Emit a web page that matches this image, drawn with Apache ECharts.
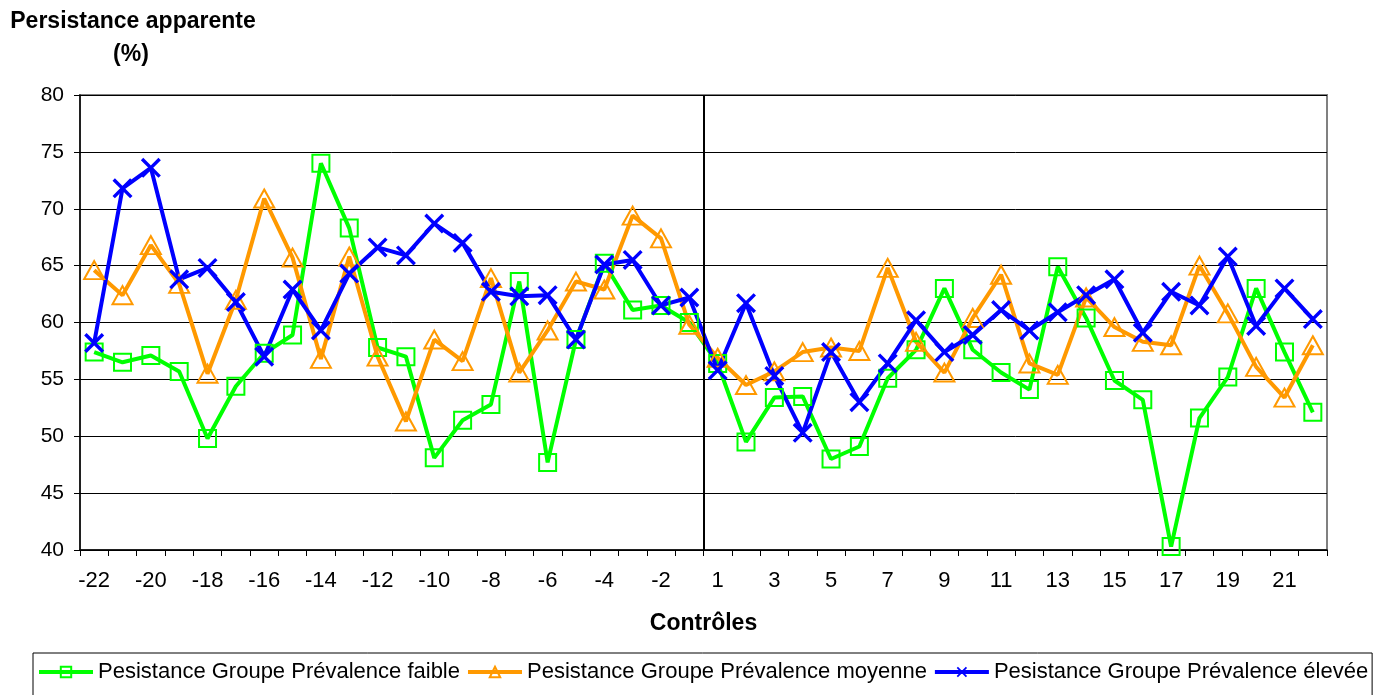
<!DOCTYPE html>
<html>
<head>
<meta charset="utf-8">
<script src="https://cdn.jsdelivr.net/npm/echarts@6/dist/echarts.min.js"></script>
<style>html,body{margin:0;padding:0;background:#fff}#c{width:1378px;height:695px}</style>
</head>
<body>
<div id="c"></div>
<script>
const categories = ['-22','-21','-20','-19','-18','-17','-16','-15','-14','-13','-12','-11','-10','-9','-8','-7','-6','-5','-4','-3','-2','-1',
  '1','2','3','4','5','6','7','8','9','10','11','12','13','14','15','16','17','18','19','20','21','22'];
const faible = [57.4,56.5,57.1,55.7,49.8,54.4,57.3,58.9,74.0,68.3,57.8,57.0,48.1,51.4,52.8,63.6,47.7,58.5,65.2,61.1,61.5,60.0,
  56.4,49.5,53.4,53.5,48.0,49.1,55.1,57.6,63.0,57.6,55.6,54.1,64.9,60.4,54.9,53.2,40.3,51.6,55.2,63.0,57.4,52.1];
const moyenne = [64.6,62.4,66.8,63.4,55.5,62.0,70.9,65.7,56.8,65.8,57.0,51.3,58.5,56.6,63.9,55.6,59.3,63.6,62.9,69.4,67.4,59.8,
  56.9,54.5,55.7,57.4,57.8,57.5,64.8,58.3,55.6,60.4,64.2,56.4,55.4,62.2,59.6,58.3,58.0,65.0,60.8,56.1,53.4,58.0];
const elevee = [58.2,71.8,73.6,63.8,64.8,61.8,57.0,62.9,59.3,64.3,66.6,65.9,68.7,67.0,62.7,62.3,62.4,58.5,65.1,65.5,61.5,62.2,
  55.8,61.7,55.3,50.3,57.4,53.0,56.4,60.2,57.4,58.9,61.1,59.3,60.9,62.4,63.8,59.1,62.7,61.5,65.8,59.7,63.0,60.3];
const negativeCount = 22;
const seriesNames = ['Pesistance Groupe Prévalence faible','Pesistance Groupe Prévalence moyenne','Pesistance Groupe Prévalence élevée'];
const yTicks = {min: 40, max: 80, interval: 5};

const FONT = 'Liberation Sans';
const chart = echarts.init(document.getElementById('c'), null, {renderer: 'canvas'});
const crossPath = 'path://M0,1.2L1.2,0L10,8.8L8.8,10Z M8.8,0L10,1.2L1.2,10L0,8.8Z';

chart.setOption({
  animation: false,
  backgroundColor: '#fff',
  textStyle: {fontFamily: FONT},
  graphic: [
    {type: 'text', x: 133, y: 10, style: {text: 'Persistance apparente', font: 'bold 23px "Liberation Sans"', textAlign: 'center', fill: '#000'}},
    {type: 'text', x: 131, y: 43, style: {text: '(%)', font: 'bold 23px "Liberation Sans"', textAlign: 'center', fill: '#000'}}
  ],
  grid: {left: 80, right: 51, top: 95, bottom: 145, show: true, borderColor: '#808080', borderWidth: 2, containLabel: false},
  legend: {
    left: 33, right: 0, top: 653,
    padding: [8, 4, 30, 4],
    itemGap: 6,
    itemWidth: 54, itemHeight: 13,
    borderColor: '#000', borderWidth: 1,
    lineStyle: {width: 4},
    textStyle: {fontSize: 22, color: '#000', fontFamily: FONT},
    data: seriesNames
  },
  xAxis: [{
    type: 'category',
    data: categories,
    boundaryGap: true,
    name: 'Contrôles',
    nameLocation: 'middle',
    nameGap: 62,
    nameTextStyle: {fontSize: 23, fontWeight: 'bold', color: '#000', fontFamily: FONT},
    axisLine: {lineStyle: {color: '#000', width: 1.5}},
    axisTick: {show: true, interval: 0, length: 6, lineStyle: {color: '#000'}},
    axisLabel: {interval: 1, fontSize: 22, color: '#000', margin: 20, fontFamily: FONT},
    splitLine: {show: false}
  }, {
    type: 'value', min: 0, max: categories.length, show: false
  }],
  yAxis: {
    type: 'value',
    min: yTicks.min, max: yTicks.max, interval: yTicks.interval,
    axisLine: {show: true, lineStyle: {color: '#000', width: 1.5}},
    axisTick: {show: true, length: 6, lineStyle: {color: '#000'}},
    axisLabel: {fontSize: 21, color: '#000', margin: 16, fontFamily: FONT},
    splitLine: {show: true, lineStyle: {color: '#000', width: 1}}
  },
  series: [
    {
      name: seriesNames[0], type: 'line', data: faible,
      symbol: 'rect', symbolSize: 17, showAllSymbol: true,
      lineStyle: {color: '#00FF00', width: 4},
      itemStyle: {color: 'rgba(0,0,0,0)', borderColor: '#00FF00', borderWidth: 2},
      emphasis: {disabled: true}
    },
    {
      name: seriesNames[1], type: 'line', data: moyenne,
      symbol: 'triangle', symbolSize: [20, 18], showAllSymbol: true,
      lineStyle: {color: '#FF9900', width: 4},
      itemStyle: {color: 'rgba(0,0,0,0)', borderColor: '#FF9900', borderWidth: 2},
      emphasis: {disabled: true}
    },
    {
      name: seriesNames[2], type: 'line', data: elevee,
      symbol: crossPath, symbolSize: 20, showAllSymbol: true,
      lineStyle: {color: '#0000FF', width: 4},
      itemStyle: {color: '#0000FF'},
      emphasis: {disabled: true}
    },
    {
      type: 'line', xAxisIndex: 1, data: [], silent: true,
      markLine: {
        silent: true, symbol: 'none', label: {show: false},
        lineStyle: {color: '#000', width: 2, type: 'solid'},
        data: [{xAxis: negativeCount}]
      }
    }
  ]
});
</script>
</body>
</html>
